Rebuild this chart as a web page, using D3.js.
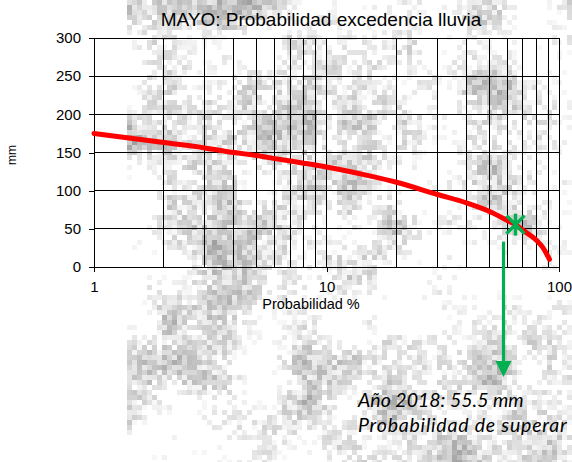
<!DOCTYPE html>
<html><head><meta charset="utf-8">
<script src="https://cdn.jsdelivr.net/npm/d3@7"></script>
<style>html,body{margin:0;padding:0;background:#fff;overflow:hidden}</style>
</head><body>
<svg id="c" width="572" height="462"></svg>
<script>
// ---- data ----
const probs  = [1, 2, 3, 4, 5, 6, 8, 10, 15, 20, 30, 40, 50, 60, 65, 70, 80, 85, 91];
const values = [175, 163, 156, 150, 146, 142, 136, 131, 120, 111, 95, 84, 73, 61, 55.5, 48, 35, 26, 10];
const yTicks = [0, 50, 100, 150, 200, 250, 300];
const xTickLabels = [1, 10, 100];
const xGrid = [1,2,3,4,5,6,7,8,9,10,20,30,40,50,60,70,80,90,100];
const obsYear = 2018, obsValue = 55.5, obsProb = 65;
const title = "MAYO: Probabilidad excedencia lluvia";
const xLabel = "Probabilidad %", yLabel = "mm";
const note1 = "Año 2018: 55.5 mm", note2 = "Probabilidad de superar el 65%";

const svg = d3.select("#c");
const W = 572, H = 462;

// ---- background texture (deterministic value noise) ----
function hash(i, j) {
  let h = Math.imul(i, 374761393) + Math.imul(j, 668265263);
  h = Math.imul(h ^ (h >>> 13), 1274126177);
  h = h ^ (h >>> 16);
  return (h >>> 0) / 4294967295;
}
function smooth(t){ return t*t*(3-2*t); }
function vnoise(x, y, s, seed) {
  const gx = x / s, gy = y / s;
  const i = Math.floor(gx), j = Math.floor(gy);
  const fx = smooth(gx - i), fy = smooth(gy - j);
  const a = hash(i+seed, j), b = hash(i+1+seed, j), c = hash(i+seed, j+1), d = hash(i+1+seed, j+1);
  return (a*(1-fx)+b*fx)*(1-fy) + (c*(1-fx)+d*fx)*fy;
}
const cell = 5, x0 = 127;
const bg = svg.append("g");
const cells = [];
for (let cx = x0; cx < W; cx += cell) {
  for (let cy = 0; cy < H; cy += cell) {
    const ix = (cx - x0) / cell, iy = cy / cell;
    const n = 0.45*vnoise(ix, iy, 9, 11) + 0.25*vnoise(ix, iy, 4, 37) + 0.3*hash(ix*7+3, iy*13+5);
    const t = Math.max(0, Math.min(1, (n - 0.47) * 2.3));
    if (t <= 0.03) continue;
    const g = Math.round(250 - t * 90);
    cells.push({x: cx, y: cy, g});
  }
}
bg.selectAll("rect").data(cells).join("rect")
  .attr("x", d => d.x).attr("y", d => d.y).attr("width", cell).attr("height", cell)
  .attr("fill", d => `rgb(${d.g},${d.g},${d.g})`);

// ---- scales ----
const x = d3.scaleLog().domain([1, 100]).range([94, 559]);
const y = d3.scaleLinear().domain([0, 300]).range([267, 38]);

// ---- grid ----
const grid = svg.append("g").attr("stroke", "#000").attr("stroke-width", 1).attr("shape-rendering", "crispEdges");
grid.selectAll("line.v").data(xGrid).join("line").attr("class", "v")
  .attr("x1", d => x(d)).attr("x2", d => x(d)).attr("y1", y(300)).attr("y2", y(0));
grid.selectAll("line.h").data(yTicks).join("line").attr("class", "h")
  .attr("x1", x(1)).attr("x2", x(100)).attr("y1", d => y(d)).attr("y2", d => y(d));

// ---- axes ----
const yAxis = d3.axisLeft(y).tickValues(yTicks).tickSize(5).tickPadding(8);
const gy = svg.append("g").attr("transform", `translate(${x(1)},0)`).call(yAxis);
gy.select(".domain").attr("stroke", "#000").attr("shape-rendering", "crispEdges");
gy.selectAll(".tick line").attr("stroke", "#000").attr("shape-rendering", "crispEdges");
gy.selectAll(".tick text").attr("font-family", "Liberation Sans, Arial, sans-serif").attr("font-size", 15).attr("fill", "#000");

const xAxis = d3.axisBottom(x).tickValues(xTickLabels).tickFormat(d3.format("d")).tickSize(5).tickPadding(9);
const gx = svg.append("g").attr("transform", `translate(0,${y(0)})`).call(xAxis);
gx.select(".domain").attr("stroke", "#000").attr("shape-rendering", "crispEdges");
gx.selectAll(".tick line").attr("stroke", "#000").attr("shape-rendering", "crispEdges");
gx.selectAll(".tick text").attr("font-family", "Liberation Sans, Arial, sans-serif").attr("font-size", 15).attr("fill", "#000");

// ---- curve ----
const pts = probs.map((p, i) => [p, values[i]]);
svg.append("path").datum(pts)
  .attr("d", d3.line().x(d => x(d[0])).y(d => y(d[1])).curve(d3.curveMonotoneX))
  .attr("fill", "none").attr("stroke", "#ff0000").attr("stroke-width", 5).attr("stroke-linecap", "round");

// ---- observation marker ----
const green = "#00b050";
const mx = x(obsProb), my = y(obsValue);
const mk = svg.append("g").attr("stroke", green).attr("stroke-width", 3.4);
mk.append("line").attr("x1", mx-9).attr("y1", my-9).attr("x2", mx+9).attr("y2", my+9);
mk.append("line").attr("x1", mx-9).attr("y1", my+9).attr("x2", mx+9).attr("y2", my-9);
mk.append("line").attr("x1", mx).attr("y1", my-11).attr("x2", mx).attr("y2", my+11);

// arrow
const ax = mx - 12;
svg.append("line").attr("x1", ax).attr("x2", ax).attr("y1", my + 17).attr("y2", 363)
  .attr("stroke", green).attr("stroke-width", 3.2);
svg.append("path").attr("d", `M${ax-8},361 L${ax+8},361 L${ax},377 Z`).attr("fill", green);

// ---- texts ----
svg.append("text").attr("x", 321).attr("y", 26).attr("text-anchor", "middle")
  .attr("font-family", "Liberation Sans, Arial, sans-serif").attr("font-size", 19).text(title);
svg.append("text").attr("x", 311).attr("y", 309).attr("text-anchor", "middle")
  .attr("font-family", "Liberation Sans, Arial, sans-serif").attr("font-size", 14.5).text(xLabel);
svg.append("text").attr("transform", "translate(16,155) rotate(-90)").attr("text-anchor", "middle")
  .attr("font-family", "Liberation Sans, Arial, sans-serif").attr("font-size", 12).text(yLabel);

const nt = svg.append("g").attr("font-family", "Lato, sans-serif").attr("font-style", "italic").attr("font-size", 19.5).attr("fill", "#000");
nt.append("text").attr("x", 358).attr("y", 407).text(note1);
nt.append("text").attr("x", 358).attr("y", 432).attr("letter-spacing", 0.8).text(note2);
</script>
</body></html>
